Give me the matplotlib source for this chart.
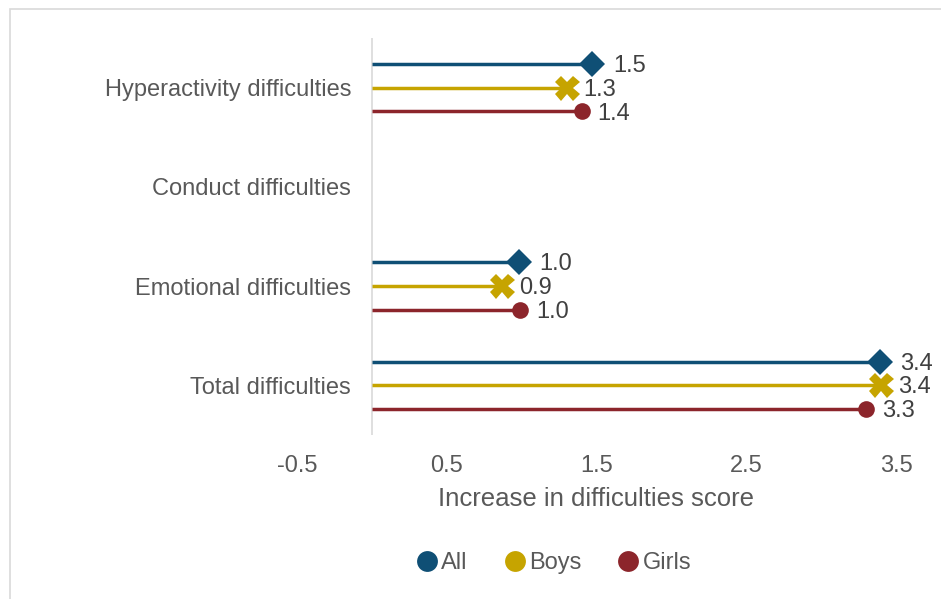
import numpy as np
import matplotlib.pyplot as plt
from matplotlib.patches import Rectangle
from matplotlib.lines import Line2D

plt.rcParams['font.family'] = ['Liberation Sans', 'DejaVu Sans']

categories = ['Hyperactivity difficulties', 'Conduct difficulties',
              'Emotional difficulties', 'Total difficulties']
all_vals = [1.47, np.nan, 0.98, 3.39]
boys_vals = [1.30, np.nan, 0.87, 3.40]
girls_vals = [1.40, np.nan, 0.99, 3.30]
xticks = [-0.5, 0.5, 1.5, 2.5, 3.5]

series = [
    ('All', all_vals, '#0F4F75', 'D', 13.5, -0.24, 15),
    ('Boys', boys_vals, '#C6A400', 'X', 18, 0.0, 12),
    ('Girls', girls_vals, '#8C252B', 'o', 12, 0.24, 11.5),
]

fig = plt.figure(figsize=(9.41, 5.99), dpi=100)
ax = fig.add_axes([0.3156, 0.2738, 0.6366, 0.6628])

# light frame around the whole chart
fig.patches.append(Rectangle((10 / 941, -0.1), 1.2, 1 - 9 / 599 + 0.1,
                             transform=fig.transFigure, fill=False,
                             edgecolor='#D9D9D9', linewidth=1.2))

y = np.arange(len(categories))
for name, vals, col, mk, ms, off, dx in series:
    vals = np.array(vals, dtype=float)
    ok = ~np.isnan(vals)
    yy = y[ok] + off
    ax.hlines(yy, 0, vals[ok], color=col, linewidth=2.5, zorder=2)
    ax.plot(vals[ok], yy, linestyle='none', marker=mk, markersize=ms,
            color=col, markeredgewidth=0, zorder=3)
    for xv, yv in zip(vals[ok], yy):
        ax.annotate(f'{xv:.1f}', (xv, yv), xytext=(dx, -1.5),
                    textcoords='offset points', va='center', ha='left',
                    fontsize=17, color='#404040')

ax.axvline(0, color='#D9D9D9', linewidth=1.2, zorder=1)
ax.set_xlim(-0.5, 3.5)
ax.set_ylim(3.5, -0.5)
ax.set_xticks(xticks)
ax.set_xticklabels([f'{t:.1f}' for t in xticks])
ax.set_yticks(y)
ax.set_yticklabels(categories)
ax.tick_params(axis='both', length=0, labelsize=17, labelcolor='#595959')
ax.tick_params(axis='x', pad=14.5)
ax.tick_params(axis='y', pad=-39)
for s in ax.spines.values():
    s.set_visible(False)
ax.set_xlabel('Increase in difficulties score', fontsize=18.5,
              color='#595959', labelpad=7)

handles = [Line2D([], [], linestyle='none', marker='o', markersize=15,
                  color=c, markeredgewidth=0) for _, _, c, *_ in series]
fig.legend(handles, [s[0] for s in series], loc='center',
           bbox_to_anchor=(553 / 941, 1 - 563 / 599), ncol=3, frameon=False,
           fontsize=17, labelcolor='#595959', handletextpad=0.1,
           columnspacing=1.5, handlelength=1.0)

fig.savefig('out.png', dpi=100)
